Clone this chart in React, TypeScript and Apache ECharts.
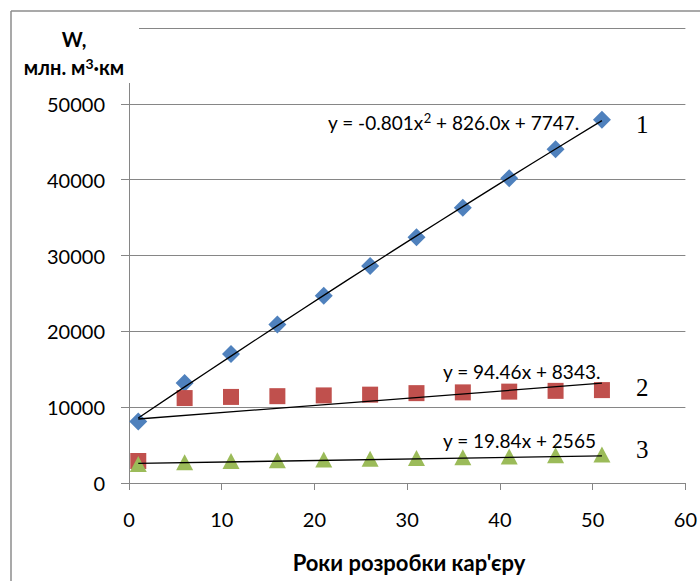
import React, { useEffect, useRef } from "react";
import * as echarts from "echarts";

const years = [1, 6, 11, 16, 21, 26, 31, 36, 41, 46, 51];
const series1 = [8100, 13200, 17000, 20900, 24700, 28600, 32400, 36300, 40200, 44000, 47900];
const series2 = [2900, 11200, 11350, 11450, 11550, 11650, 11850, 11950, 12050, 12150, 12250];
const series3 = [2500, 2750, 2900, 3000, 3100, 3200, 3300, 3400, 3500, 3650, 3750];
// trendline equations shown on the chart
const trend1Coef = [-0.801, 826.0, 7747]; // a x^2 + b x + c
const trend2Coef = [94.46, 8343]; // b x + c
const trend3Coef = [19.84, 2565];
const trendLabels = ["y = -0.801x{sup|2} + 826.0x + 7747.", "y = 94.46x + 8343.", "y = 19.84x + 2565"];
const curveNames = ["1", "2", "3"];
const yTicks = [0, 10000, 20000, 30000, 40000, 50000, 60000];
const xTicks = [0, 10, 20, 30, 40, 50, 60];
const yTitle = ["W,", "млн. м{sup|3}·км"];
const xTitle = "Роки розробки кар'єру";

const GRID = "#868686";

export default function App() {
  const ref = useRef<HTMLDivElement>(null);
  useEffect(() => {
    if (!ref.current) return;
    const chart = echarts.init(ref.current, undefined, { renderer: "svg" });
    const t1 = years.map((x) => [x, trend1Coef[0] * x * x + trend1Coef[1] * x + trend1Coef[2]]);
    const t2 = [years[0], years[years.length - 1]].map((x) => [x, trend2Coef[0] * x + trend2Coef[1]]);
    const t3 = [years[0], years[years.length - 1]].map((x) => [x, trend3Coef[0] * x + trend3Coef[1]]);
    const pts = (arr: number[]) => years.map((x, i) => [x, arr[i]]);
    const txt = (
      text: string,
      x: number,
      y: number,
      size: number,
      weight: string,
      family: string,
      align = "left"
    ) => ({
      type: "text",
      z: 101,
      style: {
        text,
        x,
        y,
        fontSize: size,
        fontWeight: weight,
        fontFamily: family,
        fill: "#000",
        align,
        verticalAlign: "middle",
        textAlign: align,
        textVerticalAlign: "middle",
        rich: {
          sup: {
            fontSize: Math.round(size * 0.68),
            fontWeight: weight,
            fontFamily: family,
            fill: "#000",
            verticalAlign: "top",
            padding: [0, 0, Math.round(size * 0.4), 0],
          },
        },
      },
    });
    chart.setOption({
      animation: false,
      backgroundColor: "#fff",
      grid: { left: 129, right: 13, top: 28, bottom: 98, containLabel: false },
      xAxis: {
        type: "value",
        min: xTicks[0],
        max: xTicks[xTicks.length - 1],
        interval: 10,
        splitLine: { show: false },
        axisLine: { show: true, lineStyle: { color: GRID, width: 1 } },
        axisTick: { show: true, length: 7, lineStyle: { color: GRID } },
        axisLabel: { margin: 26, color: "#000", fontFamily: "Lato", fontSize: 20 },
      },
      yAxis: {
        type: "value",
        min: yTicks[0],
        max: yTicks[yTicks.length - 1],
        interval: 10000,
        splitLine: { show: true, lineStyle: { color: GRID, width: 1 } },
        axisLine: { show: true, lineStyle: { color: GRID, width: 1 } },
        axisTick: { show: true, length: 8, lineStyle: { color: GRID } },
        axisLabel: {
          margin: 24,
          color: "#000",
          fontFamily: "Lato",
          fontSize: 20,
          formatter: (v: number) => (v === yTicks[yTicks.length - 1] ? "" : String(v)),
        },
      },
      series: [
        { type: "scatter", data: pts(series1), symbol: "diamond", symbolSize: 18, itemStyle: { color: "#4F81BD", opacity: 1 }, z: 2 },
        { type: "scatter", data: pts(series2), symbol: "rect", symbolSize: 16, itemStyle: { color: "#C0504D", opacity: 1 }, z: 3 },
        { type: "scatter", data: pts(series3), symbol: "triangle", symbolSize: [17, 16], itemStyle: { color: "#9BBB59", opacity: 1 }, z: 4 },
        { type: "line", data: t1, showSymbol: false, smooth: true, lineStyle: { color: "#000", width: 1.3 }, z: 5 },
        { type: "line", data: t2, showSymbol: false, lineStyle: { color: "#000", width: 1.3 }, z: 5 },
        { type: "line", data: t3, showSymbol: false, lineStyle: { color: "#000", width: 1.3 }, z: 5 },
      ],
      graphic: [
        { type: "rect", z: 99, shape: { x: 12, y: 12, width: 127, height: 71 }, style: { fill: "#fff" } },
        { type: "line", z: 100, shape: { x1: 11, y1: 11, x2: 700, y2: 11 }, style: { stroke: "#8c8c8c", lineWidth: 1.5 } },
        { type: "line", z: 100, shape: { x1: 11, y1: 11, x2: 11, y2: 581 }, style: { stroke: "#8c8c8c", lineWidth: 1.5 } },
        txt(yTitle[0], 74, 39, 20, "bold", "Lato", "center"),
        txt(yTitle[1], 74, 67, 20, "bold", "Lato", "center"),
        txt(xTitle, 409, 562, 22, "bold", "Lato", "center"),
        txt(trendLabels[0], 328, 122, 19, "normal", "Lato"),
        txt(trendLabels[1], 443, 371, 19, "normal", "Lato"),
        txt(trendLabels[2], 443, 440, 19, "normal", "Lato"),
        txt(curveNames[0], 636, 124, 25, "normal", "'Liberation Serif'"),
        txt(curveNames[1], 636, 387, 25, "normal", "'Liberation Serif'"),
        txt(curveNames[2], 636, 449, 25, "normal", "'Liberation Serif'"),
      ],
    });
    return () => chart.dispose();
  }, []);
  return <div ref={ref} style={{ position: "absolute", left: 0, top: 0, width: 700, height: 581 }} />;
}
